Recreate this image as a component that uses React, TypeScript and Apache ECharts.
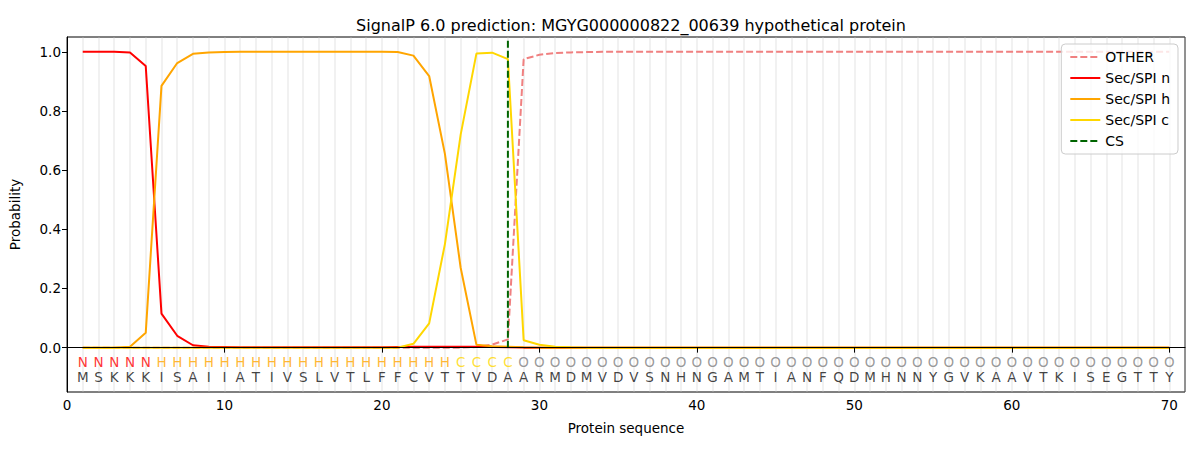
import React, { useEffect, useRef } from "react";
import * as echarts from "echarts";

const residues = ["M","S","K","K","K","I","S","A","I","I","A","T","I","V","S","L","V","T","L","F","F","C","V","T","T","V","D","A","A","R","M","D","M","V","D","V","S","N","H","N","G","A","M","T","I","A","N","F","Q","D","M","H","N","N","Y","G","V","K","A","A","V","T","K","I","S","E","G","T","T","Y"];
const regionLabels = ["N","N","N","N","N","H","H","H","H","H","H","H","H","H","H","H","H","H","H","H","H","H","H","H","C","C","C","C","O","O","O","O","O","O","O","O","O","O","O","O","O","O","O","O","O","O","O","O","O","O","O","O","O","O","O","O","O","O","O","O","O","O","O","O","O","O","O","O","O","O"];

const otherProb = [0,0,0,0,0,0,0,0,0,0,0,0,0,0,0,0,0,0,0,0,0,0,0,0,0,0.002,0.01,0.028,0.975,0.99,0.996,0.998,0.999,1,1,1,1,1,1,1,1,1,1,1,1,1,1,1,1,1,1,1,1,1,1,1,1,1,1,1,1,1,1,1,1,1,1,1,1,1];
const secN = [1,1,1,0.998,0.952,0.115,0.04,0.008,0.003,0.002,0.001,0.001,0.001,0.001,0.001,0.001,0.001,0.001,0.001,0.001,0.002,0.003,0.003,0.003,0.003,0.003,0.002,0.001,0,0,0,0,0,0,0,0,0,0,0,0,0,0,0,0,0,0,0,0,0,0,0,0,0,0,0,0,0,0,0,0,0,0,0,0,0,0,0,0,0,0];
const secH = [0,0,0,0.003,0.05,0.885,0.962,0.993,0.998,0.999,1,1,1,1,1,1,1,1,1,1,0.999,0.987,0.918,0.655,0.27,0.01,0.005,0.003,0.001,0,0,0,0,0,0,0,0,0,0,0,0,0,0,0,0,0,0,0,0,0,0,0,0,0,0,0,0,0,0,0,0,0,0,0,0,0,0,0,0,0];
const secC = [0,0,0,0,0,0,0,0,0,0,0,0,0,0,0,0,0,0,0,0,0,0.013,0.082,0.35,0.72,0.994,0.997,0.975,0.025,0.01,0.003,0.001,0,0,0,0,0,0,0,0,0,0,0,0,0,0,0,0,0,0,0,0,0,0,0,0,0,0,0,0,0,0,0,0,0,0,0,0,0,0];
const csPosition = 28;
const csSpan = [0, 1.04];
const xTicks = [0, 10, 20, 30, 40, 50, 60, 70];
const yTicks = [0, 0.2, 0.4, 0.6, 0.8, 1.0];

const labelColors: Record<string, string> = { N: "#ff0000", H: "#ffa500", C: "#ffd700", O: "#808080" };
const FONT = "DejaVu Sans";

export default function App() {
  const ref = useRef<HTMLDivElement>(null);
  useEffect(() => {
    document.body.style.margin = "0";
    const chart = echarts.init(ref.current!, null, { renderer: "svg" });
    const pos = residues.map((_, i) => i + 1);
    const lineSeries = (name: string, vals: number[], color: string, dashed = false) => ({
      name,
      type: "line",
      data: vals.map((v, i) => [pos[i], v]),
      showSymbol: false,
      symbol: "none",
      lineStyle: { color, width: 2, type: dashed ? [7, 3] : "solid" },
      itemStyle: { color },
      z: 3,
    });
    chart.setOption({
      animation: false,
      textStyle: { fontFamily: FONT },
      title: {
        text: "SignalP 6.0 prediction: MGYG000000822_00639 hypothetical protein",
        left: 626,
        top: 12,
        textAlign: "center",
        textStyle: { fontFamily: FONT, fontSize: 16, fontWeight: "normal", color: "#000" },
      },
      grid: { left: 67, right: 15, top: 37, bottom: 58, show: true, borderColor: "#000", borderWidth: 1, backgroundColor: "transparent" },
      legend: {
        orient: "vertical",
        right: 22,
        top: 44,
        padding: [6, 8, 6, 8],
        itemWidth: 30,
        itemHeight: 14,
        itemGap: 7,
        borderColor: "#cccccc",
        borderWidth: 1,
        borderRadius: 4,
        backgroundColor: "rgba(255,255,255,0.8)",
        itemStyle: { opacity: 0, borderWidth: 0 },
        textStyle: { fontFamily: FONT, fontSize: 14, color: "#000" },
        data: ["OTHER", "Sec/SPI n", "Sec/SPI h", "Sec/SPI c", "CS"],
      },
      xAxis: [
        {
          type: "value",
          min: 0,
          max: 71,
          interval: 10,
          name: "Protein sequence",
          nameLocation: "middle",
          nameGap: 29,
          nameTextStyle: { fontFamily: FONT, fontSize: 13.5, color: "#000" },
          axisLine: { lineStyle: { color: "#000" } },
          axisTick: { length: 5, lineStyle: { color: "#000" }, customValues: xTicks },
          axisLabel: { fontFamily: FONT, fontSize: 13.5, color: "#000", customValues: xTicks, margin: 6 },
          splitLine: { show: false },
          z: 5,
        },
        {
          type: "value",
          min: 0,
          max: 71,
          interval: 1,
          position: "top",
          axisLine: { show: false },
          axisTick: { show: false },
          axisLabel: { show: false },
          splitLine: { show: true, lineStyle: { color: "rgba(200,200,200,0.25)", width: 2 } },
        },
      ],
      yAxis: {
        type: "value",
        min: -0.15,
        max: 1.05,
        name: "Probability",
        nameLocation: "middle",
        nameGap: 45,
        nameTextStyle: { fontFamily: FONT, fontSize: 13.5, color: "#000" },
        axisLine: { show: true, lineStyle: { color: "#000" } },
        axisTick: { show: true, length: 5, lineStyle: { color: "#000" }, customValues: yTicks },
        axisLabel: { fontFamily: FONT, fontSize: 13.5, color: "#000", customValues: yTicks, margin: 6, formatter: (v: number) => v.toFixed(1) },
        splitLine: { show: false },
      },
      series: [
        lineSeries("OTHER", otherProb, "#f08080", true),
        lineSeries("Sec/SPI n", secN, "#ff0000"),
        lineSeries("Sec/SPI h", secH, "#ffa500"),
        lineSeries("Sec/SPI c", secC, "#ffd700"),
        {
          name: "CS",
          type: "line",
          data: csSpan.map((v) => [csPosition, v]),
          showSymbol: false,
          symbol: "none",
          lineStyle: { color: "#006400", width: 2, type: [7, 3] },
          itemStyle: { color: "#006400" },
          z: 4,
        },
        {
          type: "scatter",
          symbolSize: 0,
          silent: true,
          data: regionLabels.map((l, i) => ({
            value: [pos[i], -0.05],
            label: { show: true, position: "inside", formatter: l, color: labelColors[l], fontFamily: FONT, fontSize: 13.5 },
          })),
        },
        {
          type: "scatter",
          symbolSize: 0,
          silent: true,
          data: residues.map((r, i) => ({
            value: [pos[i], -0.1],
            label: { show: true, position: "inside", formatter: r, color: "#111", fontFamily: FONT, fontSize: 13.5 },
          })),
        },
      ],
    });
    return () => chart.dispose();
  }, []);
  return <div ref={ref} style={{ width: 1200, height: 450 }} />;
}
